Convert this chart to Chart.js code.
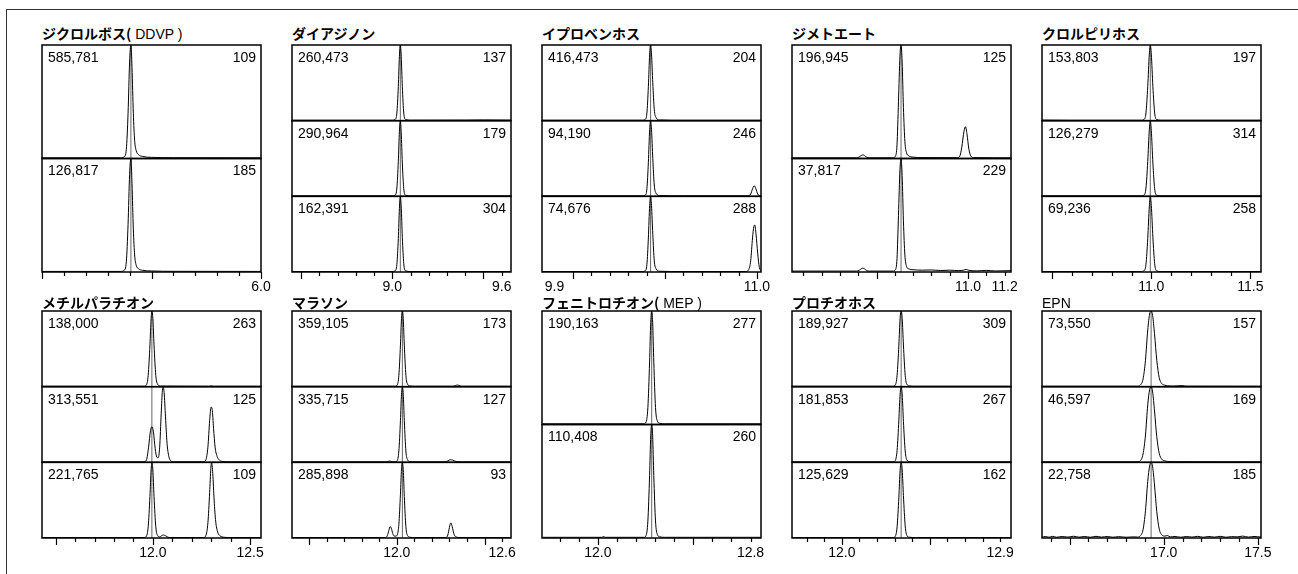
<!DOCTYPE html>
<html>
<head>
<meta charset="utf-8">
<script src="https://cdn.jsdelivr.net/npm/chart.js@4"></script>
<style>
body { margin: 0; background: #fff; width: 1298px; height: 574px; overflow: hidden; position: relative;
       font-family: "Liberation Sans", Arial, sans-serif; }
#frame { position: absolute; left: 6px; top: 9px; width: 1400px; height: 700px;
         border-left: 1px solid #333; border-top: 1px solid #333; }
.ttl { position: absolute; font-size: 14px; line-height: 16px; white-space: nowrap; color: #000; }
.ttl b { font-family: "Noto Sans CJK JP", sans-serif; font-weight: 700; }
canvas { position: absolute; }
</style>
</head>
<body>
<div id="frame"></div>
<script>
// ---- panel labels ----
const titleJa = ['ジクロルボス(', 'ダイアジノン', 'イプロベンホス', 'ジメトエート', 'クロルピリホス',
                 'メチルパラチオン', 'マラソン', 'フェニトロチオン(', 'プロチオホス', '']
const titleEn = [' DDVP )', '', '', '', '', '', '', ' MEP )', '', 'EPN']

const areaCounts = [
  ['585,781', '126,817'],
  ['260,473', '290,964', '162,391'],
  ['416,473', '94,190', '74,676'],
  ['196,945', '37,817'],
  ['153,803', '126,279', '69,236'],
  ['138,000', '313,551', '221,765'],
  ['359,105', '335,715', '285,898'],
  ['190,163', '110,408'],
  ['189,927', '181,853', '125,629'],
  ['73,550', '46,597', '22,758']
]
const ionMasses = [
  [109, 185], [137, 179, 304], [204, 246, 288], [125, 229], [197, 314, 258],
  [263, 125, 109], [173, 127, 93], [277, 260], [309, 267, 162], [157, 169, 185]
]

// ---- retention time axes (min) ----
const xMin = [5.0, 8.45, 9.832, 10.038, 10.448, 11.43, 11.403, 11.707, 11.716, 16.353]
const xMax = [6.0, 9.651, 11.022, 11.235, 11.554, 12.556, 12.651, 12.855, 12.962, 17.517]
const tickFrom = [5.0, 8.5, 10.0, 10.1, 10.5, 11.5, 11.5, 11.8, 11.8, 16.4]
const tickTo = [6.0, 9.6, 11.0, 11.2, 11.5, 12.5, 12.6, 12.8, 12.9, 17.5]
const tickMajor = [[5.0, 5.5, 6.0], [8.5, 9.0, 9.5], [10.0, 10.5, 11.0], [10.5, 11.0], [10.5, 11.0, 11.5],
                   [11.5, 12.0, 12.5], [11.5, 12.0, 12.5], [12.0, 12.5], [12.0, 12.5], [16.5, 17.0, 17.5]]
const tickLabels = [[6.0], [9.0, 9.6], [9.9, 11.0], [11.0, 11.2], [11.0, 11.5],
                    [12.0, 12.5], [12.0, 12.6], [12.0, 12.8], [12.0, 12.9], [17.0, 17.5]]
const retention = [5.406, 9.044, 10.422, 10.634, 10.995, 11.995, 12.032, 12.282, 12.337, 16.933]

// ---- chromatogram traces [time, relative intensity %] ----
const ddvp109 = [[5.0,0.6],[5.36,0.6],[5.375,1.5],[5.385,8],[5.393,40],[5.4,85],[5.406,100],[5.411,80],[5.417,40],[5.423,16],[5.43,7],[5.44,3.5],[5.46,1.8],[5.5,1],[5.6,0.7],[6.0,0.6]]
const ddvp185 = [[5.0,0.5],[5.36,0.5],[5.375,1.5],[5.385,9],[5.393,42],[5.4,86],[5.406,100],[5.411,78],[5.417,38],[5.423,15],[5.43,6],[5.44,3],[5.46,1.5],[5.5,0.9],[5.6,0.6],[6.0,0.5]]

const diaz137 = [[8.45,0.6],[9.0,0.6],[9.015,1.5],[9.025,10],[9.033,45],[9.039,85],[9.044,100],[9.049,85],[9.055,45],[9.063,10],[9.073,1.5],[9.1,0.7],[9.4,0.8],[9.5,1],[9.651,0.8]]
const diaz179 = [[8.45,0.6],[9.0,0.6],[9.015,1.5],[9.025,11],[9.033,46],[9.039,86],[9.044,100],[9.049,84],[9.055,44],[9.063,10],[9.073,1.5],[9.1,0.6],[9.651,0.6]]
const diaz304 = [[8.45,0.6],[9.0,0.6],[9.015,1.5],[9.025,10],[9.033,44],[9.039,84],[9.044,100],[9.049,86],[9.055,46],[9.063,11],[9.073,1.5],[9.1,0.6],[9.651,0.6]]

const ipro204 = [[9.832,0.6],[10.38,0.6],[10.392,1.5],[10.402,10],[10.41,45],[10.417,88],[10.422,100],[10.427,88],[10.434,50],[10.442,15],[10.452,4],[10.47,1],[10.6,0.6],[11.022,0.6]]
const ipro246 = [[9.832,0.6],[10.38,0.6],[10.392,1.5],[10.402,10],[10.41,45],[10.417,88],[10.422,100],[10.427,88],[10.434,50],[10.442,15],[10.452,4],[10.47,1],[10.6,0.6],[10.95,0.6],[10.966,3],[10.976,10],[10.985,14],[10.994,10],[11.004,3],[11.012,1],[11.022,0.6]]
const ipro288 = [[9.832,0.6],[10.38,0.6],[10.392,1.5],[10.402,10],[10.41,45],[10.417,88],[10.422,100],[10.427,88],[10.434,50],[10.442,15],[10.452,4],[10.47,1],[10.6,0.6],[10.94,0.6],[10.955,3],[10.966,15],[10.976,45],[10.983,60],[10.988,62],[10.995,50],[11.004,25],[11.013,6],[11.022,2]]

const dime125 = [[10.038,0.6],[10.39,0.6],[10.405,1.3],[10.418,2.8],[10.426,3.2],[10.434,2.6],[10.447,1],[10.46,0.6],[10.59,0.6],[10.603,2],[10.612,12],[10.62,50],[10.628,90],[10.634,100],[10.64,85],[10.647,45],[10.655,15],[10.664,5],[10.675,2.5],[10.7,1.2],[10.75,0.8],[10.94,0.7],[10.955,2],[10.966,10],[10.978,24],[10.986,28],[10.994,22],[11.005,8],[11.016,2],[11.03,0.8],[11.235,0.6]]
const dime229 = [[10.038,0.8],[10.2,0.8],[10.39,0.8],[10.405,1.5],[10.418,3],[10.426,3.4],[10.434,2.8],[10.447,1.2],[10.46,0.8],[10.59,0.8],[10.603,2],[10.612,12],[10.62,50],[10.628,90],[10.634,100],[10.64,85],[10.647,45],[10.655,15],[10.664,5],[10.675,2.8],[10.7,2],[10.75,1.6],[10.8,1.8],[10.85,1.3],[10.9,1.6],[10.95,1.2],[10.975,1.6],[10.99,2.2],[11.005,1.5],[11.05,1],[11.1,1.4],[11.15,0.9],[11.235,1.2]]

const chlor197 = [[10.448,0.8],[10.6,0.6],[10.95,0.6],[10.963,1.5],[10.973,10],[10.982,45],[10.99,88],[10.995,100],[11.0,88],[11.008,45],[11.017,10],[11.027,1.5],[11.05,0.6],[11.554,0.6]]
const chlor314 = [[10.448,0.6],[10.95,0.6],[10.963,1.5],[10.973,11],[10.982,46],[10.99,88],[10.995,100],[11.0,87],[11.008,44],[11.017,10],[11.027,1.5],[11.05,0.6],[11.554,0.6]]
const chlor258 = [[10.448,0.6],[10.95,0.6],[10.963,1.5],[10.973,10],[10.982,44],[10.99,87],[10.995,100],[11.0,88],[11.008,46],[11.017,11],[11.027,1.5],[11.05,0.6],[11.554,0.6]]

const mp263 = [[11.43,0.6],[11.955,0.6],[11.966,2],[11.976,15],[11.985,55],[11.991,90],[11.995,100],[12.0,90],[12.006,55],[12.015,15],[12.025,3],[12.04,0.8],[12.29,0.6],[12.3,1.2],[12.31,0.6],[12.556,0.6]]
const mp125 = [[11.43,0.6],[11.955,0.6],[11.967,3],[11.978,20],[11.988,42],[11.995,47],[12.003,40],[12.012,18],[12.02,7],[12.027,6],[12.035,20],[12.043,65],[12.049,95],[12.053,100],[12.058,92],[12.065,60],[12.073,25],[12.082,8],[12.092,2],[12.11,0.6],[12.26,0.6],[12.272,3],[12.283,20],[12.292,55],[12.299,73],[12.305,70],[12.312,45],[12.32,20],[12.33,8],[12.342,3],[12.36,1],[12.4,0.6],[12.556,0.6]]
const mp109 = [[11.43,0.6],[11.955,0.6],[11.966,2],[11.976,15],[11.985,55],[11.991,90],[11.995,100],[12.0,90],[12.006,55],[12.015,15],[12.025,3],[12.035,1.5],[12.045,3],[12.055,4],[12.065,3],[12.078,1],[12.09,0.6],[12.26,0.6],[12.272,3],[12.283,20],[12.292,60],[12.298,92],[12.302,100],[12.308,85],[12.315,50],[12.323,22],[12.333,8],[12.345,3],[12.365,1],[12.4,0.6],[12.556,0.6]]

const mal173 = [[11.403,0.6],[11.99,0.6],[12.002,2],[12.012,15],[12.021,55],[12.027,90],[12.032,100],[12.037,90],[12.043,55],[12.052,15],[12.062,3],[12.075,1],[12.1,0.6],[12.32,0.6],[12.335,1.5],[12.345,2.2],[12.355,1.5],[12.37,0.6],[12.651,0.6]]
const mal127 = [[11.403,0.6],[11.94,0.6],[11.952,1.2],[11.96,1.8],[11.968,1.2],[11.98,0.6],[11.992,0.8],[12.002,2],[12.012,15],[12.021,55],[12.027,90],[12.032,100],[12.037,90],[12.043,55],[12.052,15],[12.062,3],[12.075,1],[12.1,0.6],[12.28,0.6],[12.292,2],[12.305,3.5],[12.318,3],[12.33,1.8],[12.345,0.8],[12.37,0.6],[12.651,0.6]]
const mal93 = [[11.403,0.6],[11.935,0.6],[11.946,3],[11.955,10],[11.962,15],[11.969,13],[11.977,6],[11.986,2.5],[11.995,2.5],[12.004,5],[12.012,18],[12.021,58],[12.027,91],[12.032,100],[12.037,90],[12.043,55],[12.052,15],[12.062,3],[12.075,1],[12.1,0.6],[12.28,0.6],[12.291,4],[12.3,14],[12.308,20],[12.316,15],[12.325,6],[12.336,1.5],[12.36,0.6],[12.651,0.6]]

const fen277 = [[11.707,0.6],[12.24,0.6],[12.252,2],[12.262,15],[12.271,55],[12.277,90],[12.282,100],[12.287,90],[12.293,55],[12.302,15],[12.312,3],[12.325,1],[12.35,0.6],[12.855,0.6]]
const fen260 = [[11.707,0.6],[12.02,0.6],[12.03,1.2],[12.04,0.6],[12.24,0.6],[12.252,2],[12.262,15],[12.271,55],[12.277,90],[12.282,100],[12.287,90],[12.293,55],[12.302,15],[12.312,3],[12.325,1],[12.35,0.6],[12.855,0.6]]

const prot309 = [[11.716,0.6],[12.29,0.6],[12.303,2],[12.314,15],[12.324,55],[12.331,90],[12.337,100],[12.343,90],[12.35,55],[12.36,15],[12.37,3],[12.385,1],[12.42,0.6],[12.962,0.6]]
const prot267 = [[11.716,0.6],[12.29,0.6],[12.303,2],[12.314,16],[12.324,56],[12.331,90],[12.337,100],[12.343,89],[12.35,54],[12.36,15],[12.37,3],[12.385,1],[12.42,0.6],[12.962,0.6]]
const prot162 = [[11.716,0.6],[12.29,0.6],[12.303,2],[12.314,15],[12.324,54],[12.331,89],[12.337,100],[12.343,90],[12.35,56],[12.36,16],[12.37,3],[12.385,1],[12.42,0.6],[12.962,0.6]]

const epn157 = [[16.353,0.6],[16.86,0.6],[16.875,2],[16.89,10],[16.903,35],[16.915,75],[16.925,96],[16.933,100],[16.941,94],[16.951,70],[16.963,35],[16.976,12],[16.99,4],[17.005,2],[17.02,1.2],[17.05,0.8],[17.1,1.4],[17.12,0.7],[17.517,0.6]]
const epn169 = [[16.353,0.6],[16.86,0.6],[16.875,2],[16.89,11],[16.903,36],[16.915,76],[16.925,96],[16.933,100],[16.941,93],[16.951,68],[16.963,34],[16.976,12],[16.99,4],[17.005,2],[17.02,1.2],[17.05,0.8],[17.517,0.6]]
const epn185 = [[16.353,1],[16.37,2],[16.39,1],[16.41,2.2],[16.43,1],[16.46,2],[16.49,1.2],[16.52,2.3],[16.55,1.1],[16.58,2],[16.61,1],[16.64,2.2],[16.67,1.2],[16.7,2],[16.73,1],[16.76,1.8],[16.8,1],[16.84,1.5],[16.862,1.2],[16.876,3],[16.89,11],[16.903,36],[16.915,75],[16.925,95],[16.933,100],[16.941,94],[16.951,70],[16.963,35],[16.976,12],[16.99,4],[17.005,2.5],[17.02,3.2],[17.035,1.5],[17.06,2],[17.09,1],[17.12,2],[17.15,1.2],[17.18,2.2],[17.21,1],[17.24,2],[17.27,1.2],[17.3,2.2],[17.33,1],[17.36,1.8],[17.39,1.5],[17.42,2.5],[17.45,1.2],[17.48,2],[17.517,1.2]]

const peakTraces = [
  [ddvp109, ddvp185],
  [diaz137, diaz179, diaz304],
  [ipro204, ipro246, ipro288],
  [dime125, dime229],
  [chlor197, chlor314, chlor258],
  [mp263, mp125, mp109],
  [mal173, mal127, mal93],
  [fen277, fen260],
  [prot309, prot267, prot162],
  [epn157, epn169, epn185]
]

// ---- layout ----
const boxLeft = [42, 292, 542, 792, 1042]
const boxTop = [45, 311]
const boxW = 219, boxH = 227
const titleTop = [25, 294]
const FONT = '"Liberation Sans", Arial, sans-serif'

const near = (list, v) => list.some(t => Math.abs(t - v) < 1e-6)

function tickList(from, to) {
  let out = []
  for (let k = 0; from + k * 0.1 <= to + 1e-6; k++) out.push(Math.round((from + k * 0.1) * 100) / 100)
  return out
}

function framePlugin(p) {
  return {
    id: 'frame' + p,
    afterDatasetsDraw(chart) {
      const ctx = chart.ctx, a = chart.chartArea
      ctx.save()
      ctx.strokeStyle = '#000'
      ctx.lineWidth = 1.5
      ctx.font = '14px ' + FONT
      ctx.fillStyle = '#000'
      ctx.textBaseline = 'middle'
      peakTraces[p].forEach((tr, i) => {
        const s = chart.scales['y' + i]
        ctx.strokeRect(a.left, s.top, a.right - a.left, s.bottom - s.top)
        ctx.textAlign = 'left'
        ctx.fillText(areaCounts[p][i], a.left + 6, s.top + 13)
        ctx.textAlign = 'right'
        ctx.fillText(String(ionMasses[p][i]), a.right - 5, s.top + 13)
      })
      // tick marks under the lowest box
      const x = chart.scales.x
      ctx.lineWidth = 1.2
      tickList(tickFrom[p], tickTo[p]).forEach(v => {
        const px = Math.round(x.getPixelForValue(v)) + 0.5
        const len = near(tickMajor[p], v) ? 7 : 4
        ctx.beginPath()
        ctx.moveTo(px, a.bottom)
        ctx.lineTo(px, a.bottom + len)
        ctx.stroke()
      })
      ctx.restore()
    }
  }
}

for (let p = 0; p < 10; p++) {
  const col = p % 5, row = Math.floor(p / 5)

  const t = document.createElement('div')
  t.className = 'ttl'
  t.style.left = boxLeft[col] + 'px'
  t.style.top = titleTop[row] + 'px'
  t.innerHTML = '<b>' + titleJa[p] + '</b>' + titleEn[p]
  document.body.appendChild(t)

  const padL = 12, padR = 24, padT = 3
  const W = boxW + padL + padR, H = 272
  const cv = document.createElement('canvas')
  cv.width = W
  cv.height = H
  cv.style.left = (boxLeft[col] - padL) + 'px'
  cv.style.top = (boxTop[row] - padT) + 'px'
  document.body.appendChild(cv)

  const scales = {
    x: {
      type: 'linear', position: 'bottom', min: xMin[p], max: xMax[p],
      grid: { display: false, drawTicks: false },
      border: { display: false },
      afterBuildTicks: ax => {
        const vals = tickList(tickFrom[p], tickTo[p])
        tickLabels[p].forEach(v => { if (!near(vals, v)) vals.push(v) })
        vals.sort((m, n) => m - n)
        ax.ticks = vals.map(v => ({ value: v }))
      },
      ticks: {
        autoSkip: false, maxRotation: 0, padding: 7, color: '#000',
        font: { size: 14, family: FONT },
        callback: v => near(tickLabels[p], v) ? v.toFixed(1) : ''
      }
    }
  }
  const datasets = []
  peakTraces[p].forEach((tr, i) => {
    scales['y' + i] = { type: 'linear', min: 0, max: 100, stack: 'sub', stackWeight: 1, position: 'right', display: false }
    datasets.push({
      data: tr.map(d => ({ x: d[0], y: d[1] })),
      yAxisID: 'y' + i, borderColor: '#000', borderWidth: 1, pointRadius: 0,
      cubicInterpolationMode: 'monotone', fill: false
    })
  })
  // retention time marker in every sub-panel
  peakTraces[p].forEach((tr, i) => {
    datasets.push({
      data: [{ x: retention[p], y: 0 }, { x: retention[p], y: 100 }],
      yAxisID: 'y' + i, borderColor: '#666', borderWidth: 1, pointRadius: 0, fill: false
    })
  })

  const chart = new Chart(cv, {
    type: 'line',
    data: { datasets },
    options: {
      responsive: false, animation: false, devicePixelRatio: 1, events: [],
      layout: { padding: { left: padL, right: padR, top: padT, bottom: 0 } },
      plugins: { legend: { display: false }, tooltip: { enabled: false } },
      scales
    },
    plugins: [framePlugin(p)]
  })
  // make the stacked boxes exactly boxH tall
  const xh = chart.scales.x.height
  chart.options.layout.padding.bottom = H - padT - boxH - xh
  chart.update()
}
</script>
</body>
</html>
